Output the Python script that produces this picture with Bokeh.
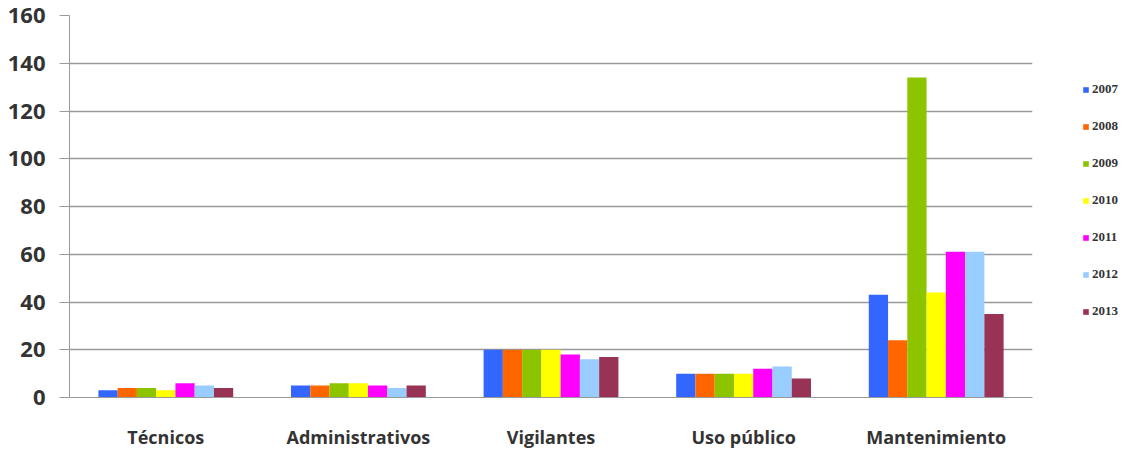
from bokeh.plotting import figure
from bokeh.models import ColumnDataSource, Range1d, FactorRange, Legend, LegendItem, FixedTicker
from bokeh.transform import dodge
from bokeh.embed import file_html
from bokeh.resources import INLINE

categories = ["Técnicos", "Administrativos", "Vigilantes", "Uso público", "Mantenimiento"]
years = ["2007", "2008", "2009", "2010", "2011", "2012", "2013"]
v2007 = [3, 5, 20, 10, 43]
v2008 = [4, 5, 20, 10, 24]
v2009 = [4, 6, 20, 10, 134]
v2010 = [3, 6, 20, 10, 44]
v2011 = [6, 5, 18, 12, 61]
v2012 = [5, 4, 16, 13, 61]
v2013 = [4, 5, 17, 8, 35]
series = [v2007, v2008, v2009, v2010, v2011, v2012, v2013]
colors = ["#3366FF", "#FF6600", "#8DC400", "#FFFF00", "#FF00FF", "#99CCFF", "#993355"]
y_ticks = [0, 20, 40, 60, 80, 100, 120, 140, 160]

data = {"cat": categories}
for y, s in zip(years, series):
    data["y" + y] = s
src = ColumnDataSource(data)

p = figure(x_range=FactorRange(*categories), y_range=Range1d(0, 160),
           frame_width=963, frame_height=382,
           min_border_left=69, min_border_top=15, min_border_right=86, min_border_bottom=10,
           output_backend="svg", toolbar_location=None)
p.outline_line_color = None
p.background_fill_color = "white"

bw = 0.1
items = []
for i, (y, c) in enumerate(zip(years, colors)):
    off = (i - 3) * bw
    r = p.vbar(x=dodge("cat", off, range=p.x_range), top="y" + y, width=bw,
               source=src, fill_color=c, line_color=None)
    items.append(LegendItem(label=y, renderers=[r]))

legend = Legend(items=items, location=(50, 78), padding=0, margin=0,
                spacing=21, label_height=13, glyph_height=7, glyph_width=7,
                label_standoff=3, label_text_font_size="13px",
                label_text_font="Liberation Serif", label_text_font_style="bold",
                label_text_color="#333333", border_line_color=None,
                background_fill_alpha=0)
p.add_layout(legend, "right")

p.xgrid.grid_line_color = None
p.ygrid.grid_line_color = "#999999"
p.ygrid.grid_line_width = 1.5
p.ygrid.ticker = FixedTicker(ticks=y_ticks)

p.yaxis.ticker = FixedTicker(ticks=y_ticks)
p.yaxis.axis_line_color = "#999999"
p.yaxis.major_tick_line_color = "#999999"
p.yaxis.major_tick_out = 10
p.yaxis.major_tick_in = 0
p.yaxis.minor_tick_line_color = None
p.yaxis.major_label_standoff = 14
p.yaxis.major_label_text_font = "Open Sans"
p.yaxis.major_label_text_font_style = "bold"
p.yaxis.major_label_text_font_size = "22px"
p.yaxis.major_label_text_color = "#333333"

p.xaxis.axis_line_color = "#999999"
p.xaxis.major_tick_line_color = None
p.xaxis.minor_tick_line_color = None
p.xaxis.major_label_standoff = 21
p.xaxis.major_label_text_font = "Open Sans"
p.xaxis.major_label_text_font_style = "bold"
p.xaxis.major_label_text_font_size = "18px"
p.xaxis.major_label_text_color = "#333333"

open("out.html", "w").write(file_html(p, INLINE))
